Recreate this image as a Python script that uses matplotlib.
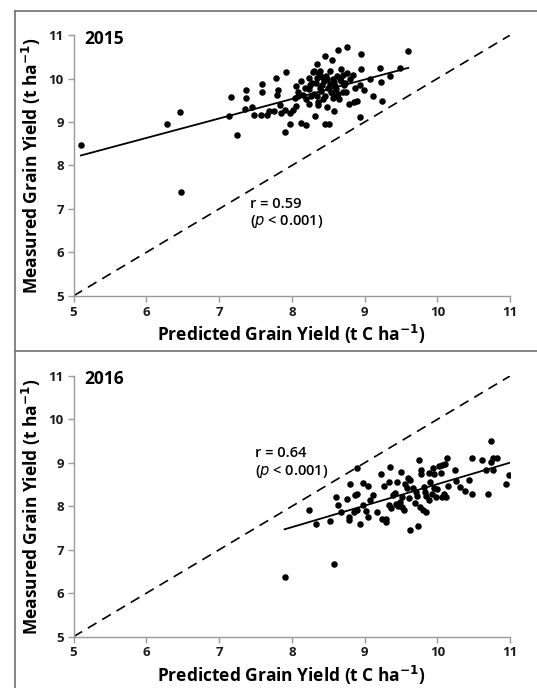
import numpy as np
import matplotlib
matplotlib.use('Agg')
import matplotlib.pyplot as plt
from matplotlib.lines import Line2D

plt.rcParams['font.family'] = ['Open Sans', 'DejaVu Sans']

# 2015 panel
pred_2015 = [5.10, 6.29, 6.46, 6.48, 7.13, 7.16, 7.25, 7.37, 7.37, 7.36, 7.45, 7.48,
             7.59, 7.59, 7.58, 7.66, 7.69, 7.75, 7.78, 7.81, 7.80, 7.84, 7.85, 7.90,
             7.92, 7.91, 7.97, 7.97, 8.02, 8.06, 8.09, 8.12, 8.06, 8.09, 8.13, 8.20,
             8.23, 8.24, 8.20, 8.24, 8.27, 8.30, 8.32, 8.34, 8.34, 8.35, 8.36, 8.38,
             8.39, 8.41, 8.43, 8.44, 8.46, 8.48, 8.45, 8.51, 8.52, 8.55, 8.55, 8.57,
             8.58, 8.59, 8.62, 8.63, 8.65, 8.66, 8.68, 8.70, 8.72, 8.75, 8.76, 8.76,
             8.79, 8.80, 8.84, 8.85, 8.87, 8.89, 8.94, 8.95, 8.95, 8.94, 8.99, 9.08,
             9.12, 9.21, 9.23, 9.24, 9.35, 9.48, 9.59,
             8.25, 8.30, 8.33, 8.37, 8.40, 8.42, 8.45, 8.47, 8.50, 8.52, 8.54, 8.58,
             8.60, 8.62, 8.64, 8.67, 8.70, 8.73, 8.26, 8.18, 8.15, 8.36, 8.05, 8.48,
             8.57, 8.29]
meas_2015 = [8.48, 8.96, 9.22, 7.38, 9.13, 9.57, 8.69, 9.73, 9.56, 9.29, 9.35, 9.16,
             9.88, 9.68, 9.16, 9.15, 9.26, 9.26, 10.01, 9.73, 9.62, 9.38, 9.20, 9.28,
             10.16, 8.76, 8.95, 9.21, 9.28, 9.36, 9.59, 9.95, 9.82, 9.70, 8.97, 8.93,
             10.01, 9.75, 9.52, 9.42, 9.90, 10.17, 9.14, 10.33, 10.01, 9.59, 9.39, 9.79,
             10.17, 10.04, 9.52, 9.94, 10.52, 9.98, 8.96, 8.96, 10.17, 10.43, 9.67, 10.00,
             9.26, 9.82, 9.59, 10.65, 9.52, 9.98, 10.21, 9.70, 9.86, 9.69, 10.73, 10.13,
             9.41, 9.98, 10.08, 9.45, 9.79, 9.48, 9.86, 10.56, 10.23, 9.11, 9.73, 9.99,
             9.60, 10.25, 9.93, 9.48, 10.05, 10.25, 10.63,
             9.85, 9.65, 9.90, 10.10, 9.72, 9.85, 9.60, 10.05, 9.78, 9.88, 9.70, 9.92,
             9.75, 10.05, 9.65, 9.95, 10.08, 9.90, 9.60, 9.78, 9.62, 9.45, 9.55, 9.35,
             9.55, 10.16]
fit_2015 = (0.448, 5.945)      # slope, intercept
fit_range_2015 = [5.1, 9.6]

# 2016 panel
pred_2016 = [7.90, 8.58, 8.24, 8.33, 8.53, 8.60, 8.63, 8.67, 8.79, 8.79, 8.76, 8.80,
             8.85, 8.87, 8.89, 8.89, 8.90, 8.93, 8.98, 8.98, 9.02, 9.04, 9.05, 9.08,
             9.11, 9.17, 9.23, 9.24, 9.27, 9.29, 9.30, 9.33, 9.34, 9.35, 9.36, 9.39,
             9.42, 9.43, 9.45, 9.46, 9.49, 9.50, 9.51, 9.52, 9.54, 9.56, 9.58, 9.59,
             9.61, 9.62, 9.63, 9.66, 9.69, 9.71, 9.72, 9.73, 9.75, 9.76, 9.77, 9.78,
             9.80, 9.81, 9.83, 9.84, 9.85, 9.88, 9.89, 9.90, 9.92, 9.94, 9.95, 9.96,
             9.98, 9.99, 10.02, 10.05, 10.06, 10.07, 10.09, 10.11, 10.12, 10.13, 10.15,
             10.24, 10.26, 10.31, 10.38, 10.43, 10.48, 10.48, 10.62, 10.67, 10.70, 10.74,
             10.73, 10.76, 10.77, 10.82, 10.94, 10.99]
meas_2016 = [6.37, 6.68, 7.91, 7.60, 7.66, 8.22, 8.03, 7.86, 7.76, 7.68, 8.16, 8.51,
             7.86, 8.25, 8.28, 8.87, 7.91, 7.60, 8.04, 8.54, 7.89, 7.76, 8.47, 8.15,
             8.25, 7.86, 8.75, 7.70, 8.46, 7.71, 7.64, 8.57, 8.02, 8.91, 7.96, 8.25,
             8.31, 8.06, 8.56, 8.01, 8.10, 8.79, 7.99, 8.22, 7.91, 8.51, 8.41, 8.64,
             8.20, 8.60, 7.45, 8.41, 8.08, 8.33, 8.24, 7.55, 9.06, 7.99, 8.84, 8.75,
             7.91, 8.45, 8.33, 8.24, 7.87, 8.77, 8.14, 8.56, 8.29, 8.89, 8.74, 8.41,
             8.22, 8.39, 8.92, 8.77, 8.22, 8.94, 8.29, 8.98, 8.22, 9.10, 8.46,
             8.83, 8.58, 8.45, 8.35, 8.60, 9.12, 8.29, 9.06, 8.84, 8.29, 9.50,
             9.02, 9.10, 8.83, 9.10, 8.52, 8.71]
fit_2016 = (0.495, 3.56)
fit_range_2016 = [7.9, 11.0]

ticks = [5, 6, 7, 8, 9, 10, 11]

fig = plt.figure(figsize=(5.37, 6.88), dpi=100)

# panel frames
frame_col = '#6f6f6f'
for y in [0.984, 0.490]:
    fig.add_artist(Line2D([0.028, 1.0], [y, y], color=frame_col, lw=1.2))
fig.add_artist(Line2D([0.028, 0.028], [0.0, 0.984], color=frame_col, lw=1.2))

panels = [
    ([0.137, 0.570, 0.813, 0.379], pred_2015, meas_2015, fit_2015, fit_range_2015,
     '2015', 'r = 0.59', (7.42, 7.12)),
    ([0.137, 0.0746, 0.813, 0.379], pred_2016, meas_2016, fit_2016, fit_range_2016,
     '2016', 'r = 0.64', (7.49, 9.23)),
]

for rect, px, my, fit, frange, year, rtxt, tpos in panels:
    ax = fig.add_axes(rect)
    ax.plot([5, 11], [5, 11], color='black', lw=1.2, dashes=(6, 4), zorder=1)
    fx = np.array(frange)
    ax.plot(fx, fit[0] * fx + fit[1], color='black', lw=1.3, zorder=2)
    ax.scatter(px, my, s=22, color='black', zorder=3, linewidths=0)

    ax.set_xlim(5, 11)
    ax.set_ylim(5, 11)
    ax.set_xticks(ticks)
    ax.set_yticks(ticks)
    for s in ['top', 'right']:
        ax.spines[s].set_visible(False)
    for s in ['left', 'bottom']:
        ax.spines[s].set_color('#9a9a9a')
        ax.spines[s].set_linewidth(1.0)
    ax.tick_params(direction='out', length=4, color='#9a9a9a', width=1.0,
                   labelsize=9.5, pad=3)
    for lab in ax.get_xticklabels() + ax.get_yticklabels():
        lab.set_fontweight('bold')
        lab.set_color('#1a1a1a')

    ax.set_xlabel('Predicted Grain Yield (t C ha$^{\\mathbf{-1}}$)', fontsize=12.5,
                  fontweight='bold', labelpad=3)
    ax.set_ylabel('Measured Grain Yield (t ha$^{\\mathbf{-1}}$)', fontsize=12.5,
                  fontweight='bold', labelpad=4)

    ax.text(5.15, 10.92, year, fontsize=12.5, fontweight='bold', va='center')
    ax.text(tpos[0], tpos[1], rtxt, fontsize=10.5, fontweight='semibold', va='center')
    ax.text(tpos[0], tpos[1] - 0.42, '($\\it{p}$ < 0.001)', fontsize=10.5,
            fontweight='semibold', va='center')

fig.savefig('out.png', dpi=100, facecolor='white')
